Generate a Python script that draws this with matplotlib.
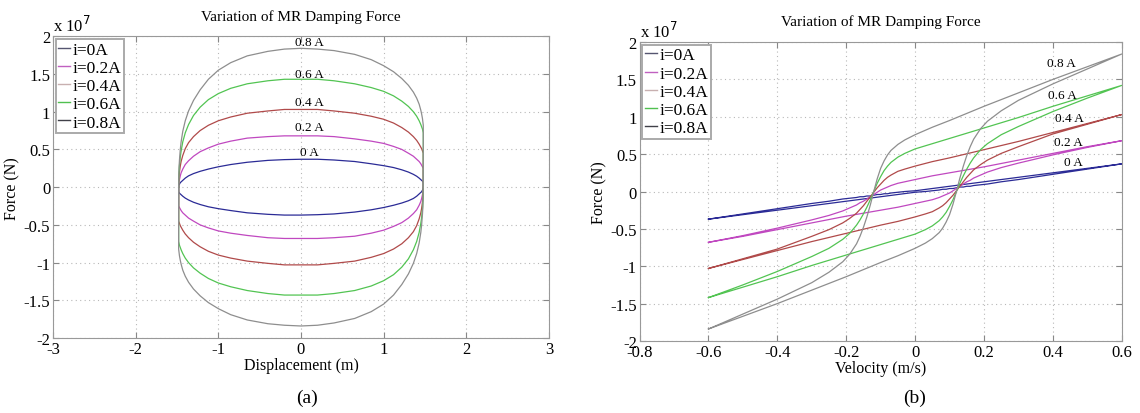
import matplotlib
matplotlib.use("Agg")
import matplotlib.pyplot as plt
from matplotlib.lines import Line2D

plt.rcParams['font.family'] = ['Liberation Serif', 'DejaVu Serif']
plt.rcParams['axes.unicode_minus'] = False

currents = ['0 A', '0.2 A', '0.4 A', '0.6 A', '0.8 A']
legend_labels = ['i=0A', 'i=0.2A', 'i=0.4A', 'i=0.6A', 'i=0.8A']
curve_colors = ['#2b2b96', '#c048c0', '#b04a4a', '#52c452', '#8e8e8e']
legend_colors = ['#555570', '#c060c0', '#c8b0b0', '#50c050', '#404048']

# (a) upper branch of each loop, force in 1e7 N; lower branch is its point mirror
disp = [-1.48, -1.478, -1.475, -1.47, -1.46, -1.45, -1.43, -1.40, -1.36, -1.30, -1.22,
        -1.12, -1.0, -0.85, -0.65, -0.4, -0.2, 0.0, 0.2, 0.4, 0.65, 0.85, 1.0, 1.12,
        1.22, 1.30, 1.36, 1.40, 1.43, 1.45, 1.46, 1.47, 1.48, 1.48]
force_a_0 = [0.0, 0.02, 0.03, 0.04, 0.06, 0.07, 0.09, 0.12, 0.15, 0.18, 0.21,
             0.24, 0.27, 0.30, 0.33, 0.355, 0.365, 0.37, 0.37, 0.36, 0.34, 0.31, 0.285, 0.26,
             0.23, 0.20, 0.17, 0.145, 0.12, 0.10, 0.09, 0.08, 0.06, 0.0]
force_a_2 = [0.0, 0.04, 0.07, 0.10, 0.15, 0.19, 0.24, 0.30, 0.35, 0.41, 0.47,
             0.52, 0.57, 0.61, 0.65, 0.67, 0.68, 0.68, 0.68, 0.67, 0.64, 0.61, 0.58, 0.54,
             0.50, 0.45, 0.41, 0.37, 0.34, 0.31, 0.29, 0.27, 0.25, 0.0]
force_a_4 = [0.0, 0.08, 0.14, 0.20, 0.28, 0.34, 0.42, 0.51, 0.59, 0.67, 0.75,
             0.82, 0.88, 0.93, 0.98, 1.01, 1.03, 1.03, 1.03, 1.01, 0.98, 0.94, 0.90, 0.85,
             0.79, 0.73, 0.67, 0.62, 0.57, 0.53, 0.51, 0.48, 0.45, 0.0]
force_a_6 = [0.0, 0.12, 0.21, 0.29, 0.40, 0.48, 0.60, 0.72, 0.83, 0.95, 1.06,
             1.16, 1.24, 1.31, 1.37, 1.41, 1.43, 1.43, 1.43, 1.41, 1.37, 1.32, 1.27, 1.21,
             1.14, 1.07, 1.00, 0.94, 0.88, 0.83, 0.80, 0.77, 0.72, 0.0]
force_a_8 = [0.0, 0.15, 0.26, 0.36, 0.50, 0.60, 0.74, 0.88, 1.01, 1.15, 1.29,
             1.43, 1.55, 1.65, 1.74, 1.80, 1.83, 1.84, 1.83, 1.81, 1.76, 1.69, 1.61, 1.53,
             1.44, 1.35, 1.26, 1.18, 1.10, 1.02, 0.97, 0.91, 0.82, 0.0]
forces_a = [force_a_0, force_a_2, force_a_4, force_a_6, force_a_8]

# (b) branch with increasing velocity; the other branch is its point mirror
vel = [-0.6, -0.5, -0.4, -0.3, -0.2, -0.1, -0.05, 0.0, 0.03, 0.05, 0.07, 0.08, 0.09,
       0.10, 0.11, 0.12, 0.13, 0.14, 0.15, 0.16, 0.17, 0.19, 0.21, 0.25, 0.3, 0.4, 0.5, 0.6]
force_b_0 = [-0.37, -0.31, -0.25, -0.19, -0.13, -0.07, -0.04, -0.01, 0.0, 0.01, 0.02, 0.03, 0.03,
             0.04, 0.04, 0.05, 0.06, 0.06, 0.07, 0.07, 0.08, 0.09, 0.10, 0.13, 0.16, 0.23, 0.30, 0.37]
force_b_2 = [-0.68, -0.60, -0.51, -0.42, -0.33, -0.25, -0.21, -0.16, -0.13, -0.11, -0.08, -0.06, -0.04,
             -0.02, 0.01, 0.04, 0.07, 0.10, 0.13, 0.15, 0.18, 0.22, 0.26, 0.32, 0.38, 0.49, 0.59, 0.68]
force_b_4 = [-1.03, -0.91, -0.79, -0.67, -0.56, -0.45, -0.40, -0.34, -0.30, -0.27, -0.22, -0.19, -0.15,
             -0.10, -0.05, 0.01, 0.07, 0.13, 0.19, 0.24, 0.29, 0.36, 0.42, 0.51, 0.60, 0.77, 0.90, 1.03]
force_b_6 = [-1.42, -1.28, -1.14, -0.99, -0.85, -0.71, -0.64, -0.57, -0.51, -0.46, -0.39, -0.34, -0.28,
             -0.20, -0.11, 0.0, 0.11, 0.21, 0.30, 0.38, 0.45, 0.56, 0.64, 0.76, 0.87, 1.07, 1.25, 1.42]
force_b_8 = [-1.84, -1.67, -1.50, -1.32, -1.14, -0.95, -0.86, -0.76, -0.69, -0.63, -0.55, -0.49, -0.41,
             -0.31, -0.17, 0.0, 0.18, 0.34, 0.48, 0.60, 0.70, 0.84, 0.94, 1.08, 1.22, 1.44, 1.64, 1.84]
forces_b = [force_b_0, force_b_2, force_b_4, force_b_6, force_b_8]

label_pos_a = [(0.1, 0.46), (0.1, 0.80), (0.1, 1.13), (0.1, 1.50), (0.1, 1.92)]
label_pos_b = [(0.46, 0.40), (0.445, 0.66), (0.447, 0.98), (0.427, 1.29), (0.424, 1.72)]

fig = plt.figure(figsize=(11.4, 4.14), dpi=100)
ax1 = fig.add_axes([0.0465, 0.181, 0.435, 0.729])
ax2 = fig.add_axes([0.561, 0.174, 0.423, 0.722])


def style(ax):
    ax.set_ylim(-2, 2)
    ax.set_yticks([-2, -1.5, -1, -0.5, 0, 0.5, 1, 1.5, 2])
    ax.set_yticklabels(['-2', '-1.5', '-1', '-0.5', '0', '0.5', '1', '1.5', '2'])
    ax.grid(True, linestyle=(0, (1, 3)), color='#b8b8b8', linewidth=0.8)
    ax.tick_params(direction='in', top=True, right=True, labelsize=12,
                   length=4, color='#888888', pad=2)
    for s in ax.spines.values():
        s.set_color('#999999')
        s.set_linewidth(0.8)
    ax.set_title('Variation of MR Damping Force', fontsize=11, pad=12)
    ax.set_ylabel('Force (N)', fontsize=11.5, labelpad=2)
    ax.text(0.0, 1.005, r'x 10$^{7}$', transform=ax.transAxes, fontsize=12,
            ha='left', va='bottom')
    handles = [Line2D([], [], color=c, lw=1) for c in legend_colors]
    leg = ax.legend(handles, legend_labels, loc='upper left', fontsize=12.5,
                    borderaxespad=0.15, handlelength=0.7, handletextpad=0.15,
                    labelspacing=0.12, borderpad=0.15, fancybox=False, framealpha=1)
    leg.get_frame().set_edgecolor('#aaaaaa')
    leg.get_frame().set_linewidth(1.4)


for i in range(5):
    fa = forces_a[i]
    xs = disp + [-d for d in disp]
    ys = fa + [-f for f in fa]
    ax1.plot(xs, ys, color=curve_colors[i], lw=0.9)
    ax1.text(label_pos_a[i][0], label_pos_a[i][1], currents[i], fontsize=9.5,
             ha='center', va='center')

    fb = forces_b[i]
    vs = vel + [-v for v in vel]
    ys = fb + [-f for f in fb]
    ax2.plot(vs, ys, color=curve_colors[i], lw=0.9)
    ax2.text(label_pos_b[i][0], label_pos_b[i][1], currents[i], fontsize=9.5,
             ha='center', va='center')

ax1.set_xlim(-3, 3)
ax1.set_xticks([-3, -2, -1, 0, 1, 2, 3])
ax1.set_xlabel('Displacement (m)', fontsize=11.5, labelpad=0)
style(ax1)

ax2.set_xlim(-0.8, 0.6)
ax2.set_xticks([-0.8, -0.6, -0.4, -0.2, 0, 0.2, 0.4, 0.6])
ax2.set_xticklabels(['-0.8', '-0.6', '-0.4', '-0.2', '0', '0.2', '0.4', '0.6'])
ax2.set_xlabel('Velocity (m/s)', fontsize=11.5, labelpad=0)
style(ax2)

fig.text(307 / 1140, 1 - 398 / 414, '(a)', fontsize=14, ha='center', va='center')
fig.text(915 / 1140, 1 - 398 / 414, '(b)', fontsize=14, ha='center', va='center')

fig.savefig('out.png', dpi=100)
